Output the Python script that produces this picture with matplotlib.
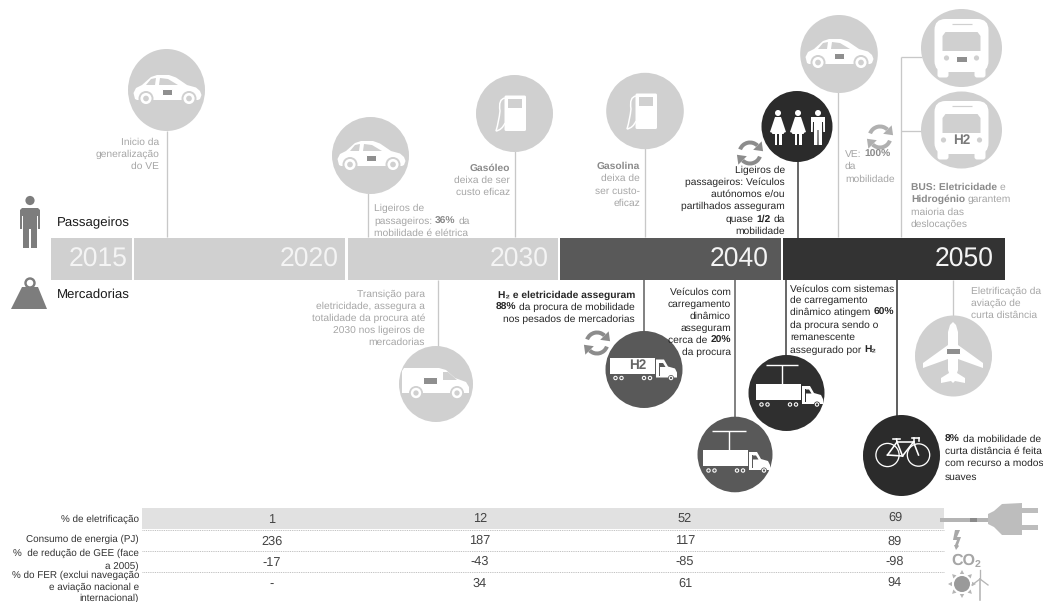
import matplotlib
matplotlib.use("Agg")
import matplotlib.pyplot as plt
import numpy as np
from matplotlib.patches import Ellipse, Polygon, Rectangle, Circle, PathPatch, FancyBboxPatch, Wedge
from matplotlib.path import Path

# ---------- data ----------
years = ["2015", "2020", "2030", "2040", "2050"]
row_labels = [
    ["% de eletrificação"],
    ["Consumo de energia (PJ)"],
    ["%  de redução de GEE (face", "a 2005)"],
    ["% do FER (exclui navegação", "e aviação nacional e", "internacional)"],
]
eletrificacao = ["1", "12", "52", "69"]
consumo = ["236", "187", "117", "89"]
gee = ["-17", "-43", "-85", "-98"]
fer = ["-", "34", "61", "94"]

txt_inicio = ["Inicio da", "generalização", "do VE"]
txt_lig36 = ["Ligeiros de", "passageiros: **36%** da", "mobilidade é elétrica"]
txt_gasoleo = ["**Gasóleo**", "deixa de ser", "custo eficaz"]
txt_gasolina = ["**Gasolina**", "deixa de", "ser custo-", "eficaz"]
txt_auto = ["Ligeiros de", "passageiros: Veículos", "autónomos e/ou", "partilhados asseguram", "quase **1/2** da", "mobilidade"]
txt_ve = ["VE: **100%**", "da", "mobilidade"]
txt_bus = ["**BUS: Eletricidade** e", "**Hidrogénio** garantem", "maioria das", "deslocações"]
txt_trans = ["Transição para", "eletricidade, assegura a", "totalidade da procura até", "2030 nos ligeiros de", "mercadorias"]
txt_h2 = ["**H₂ e eletricidade asseguram**", "**88%** da procura de mobilidade", "nos pesados de mercadorias"]
txt_din20 = ["Veículos com", "carregamento", "dinâmico", "asseguram", "cerca de **20%**", "da procura"]
txt_din60 = ["Veículos com sistemas", "de carregamento", "dinâmico atingem **60%**", "da procura sendo o", "remanescente", "assegurado por **H₂**"]
txt_aviacao = ["Eletrificação da", "aviação de", "curta distância"]
txt_bici = ["**8%** da mobilidade de", "curta distância é feita", "com recurso a modos", "suaves"]

# ---------- styles ----------
plt.rcParams["font.family"] = ["Liberation Sans", "DejaVu Sans"]
plt.rcParams["text.hinting"] = "no_hinting"
plt.rcParams["text.hinting_factor"] = 8
LIGHT = "#d0d0d0"
MID = "#595959"
DARK = "#333333"
TL = "#a6a6a6"
TLB = "#8a8a8a"
TD = "#262626"
W = "white"
PX = 0.72  # points per pixel at dpi 100

fig = plt.figure(figsize=(10.43, 6.02), dpi=100)
ax = fig.add_axes([0, 0, 1, 1])
ax.set_xlim(0, 1043)
ax.set_ylim(602, 0)
ax.axis("off")
renderer = fig.canvas.get_renderer()


def adv(s, size, weight):
    g = ax.text(0, 0, "|" + s + "|", fontsize=size * PX, fontweight=weight)
    g0 = ax.text(0, 0, "||", fontsize=size * PX, fontweight=weight)
    w = g.get_window_extent(renderer).width - g0.get_window_extent(renderer).width
    g.remove(); g0.remove()
    return w


def rich(lines, x, ys, ha="left", color=TD, boldcolor=None, size=10.2):
    boldcolor = boldcolor or color
    for line, y in zip(lines, ys):
        parts = [(p, i % 2 == 1) for i, p in enumerate(line.split("**")) if p]
        widths = [adv(p, size, "bold" if b else "normal") for p, b in parts]
        cur = x - sum(widths) if ha == "right" else x
        for (p, b), w in zip(parts, widths):
            lead = adv(p[: len(p) - len(p.lstrip())], size, "bold" if b else "normal") if p != p.lstrip() else 0
            ax.text(cur + lead, y, p.strip(), fontsize=size * PX, va="center_baseline", ha="left",
                    color=boldcolor if b else color, fontweight="bold" if b else "normal", zorder=5)
            cur += w


def vline(x, y0, y1, c="#c8c8c8", lw=1.3):
    ax.plot([x, x], [y0, y1], color=c, lw=lw * PX, solid_capstyle="butt", zorder=1)


def hline(x0, x1, y, c="#c8c8c8", lw=1.3, z=1):
    ax.plot([x0, x1], [y, y], color=c, lw=lw * PX, solid_capstyle="butt", zorder=z)


def disc(cx, cy, rx, ry, c):
    ax.add_patch(Ellipse((cx, cy), 2 * rx, 2 * ry, fc=c, ec="none", zorder=2))


def poly(cx, cy, pts, c=W, z=3):
    ax.add_patch(Polygon([(cx + a, cy + b) for a, b in pts], closed=True, fc=c, ec="none", zorder=z))


def ring(cx, cy, bg, r=7.0):
    ax.add_patch(Circle((cx, cy), r, fc=bg, ec="none", zorder=4))
    ax.add_patch(Circle((cx, cy), r * 0.74, fc=W, ec="none", zorder=5))
    ax.add_patch(Circle((cx, cy), r * 0.38, fc=bg, ec="none", zorder=6))


def battery(cx, cy, s=1.0):
    ax.add_patch(Rectangle((cx - 6 * s, cy - 3 * s), 12 * s, 6 * s, fc="#8f8f8f", ec=W, lw=1.0 * PX, zorder=6))
    ax.add_patch(Rectangle((cx + 6 * s, cy - 1.2 * s), 1.4 * s, 2.4 * s, fc=W, ec="none", zorder=6))


def car(cx, cy, bg):
    poly(cx, cy, [(-32, 8), (-33.5, 2), (-31, -3), (-25, -6), (-16, -14), (-10, -16), (2, -16), (9, -13.5),
                  (20, -6), (29, -3.5), (33, 0), (34.5, 4), (33, 8), (31, 9), (-30, 9)])
    poly(cx, cy, [(-21, -6), (-16, -12), (-11, -13), (-12, -6)], bg, 4)
    poly(cx, cy, [(-8, -6), (-7, -13), (1, -12), (11, -6)], bg, 4)
    ring(cx - 21, cy + 7.5, bg, 7.5)
    ring(cx + 22, cy + 7.5, bg, 7.5)
    battery(cx, cy + 1, 0.85)


def pump(cx, cy, bg):
    ax.add_patch(FancyBboxPatch((cx - 9.5, cy - 17.5), 21.5, 35.5, boxstyle="round,pad=0,rounding_size=1.5",
                                fc=W, ec="none", zorder=3))
    ax.add_patch(Rectangle((cx - 6, cy - 14), 14, 9, fc=bg, ec="none", zorder=4))
    p = Path([(cx - 9, cy - 15), (cx - 16, cy - 14), (cx - 14, cy - 2), (cx - 15, cy + 8),
              (cx - 18, cy + 18), (cx - 12, cy + 17), (cx - 9, cy + 10)],
             [Path.MOVETO, Path.CURVE3, Path.CURVE3, Path.CURVE3, Path.CURVE3, Path.CURVE3, Path.CURVE3])
    ax.add_patch(PathPatch(p, fc="none", ec=W, lw=1.5 * PX, zorder=4))


def woman(cx, cy):
    ax.add_patch(Circle((cx, cy - 14), 3.0, fc=W, ec="none", zorder=4))
    poly(cx, cy, [(-3, -10), (3, -10), (8, 5), (5.5, 6), (3.2, 0), (6, 7), (-6, 7), (-3.2, 0), (-5.5, 6), (-8, 5)], W, 4)
    poly(cx, cy, [(-3.5, 7), (-0.7, 7), (-0.7, 18), (-3.5, 18)], W, 4)
    poly(cx, cy, [(0.7, 7), (3.5, 7), (3.5, 18), (0.7, 18)], W, 4)


def man(cx, cy):
    ax.add_patch(Circle((cx, cy - 14), 3.0, fc=W, ec="none", zorder=4))
    poly(cx, cy, [(-7, -10), (7, -10), (7, 5), (5.2, 5), (5, -5), (4, -5), (4, 18), (0.6, 18), (0.5, 3), (-0.5, 3),
                  (-0.6, 18), (-4, 18), (-4, -5), (-5, -5), (-5.2, 5), (-7, 5)], W, 4)


def bus(cx, cy, bg, h2=False):
    ax.add_patch(FancyBboxPatch((cx - 27, cy - 29), 54, 53, boxstyle="round,pad=0,rounding_size=11", fc=W, ec="none", zorder=3))
    for sx in (-1, 1):
        ax.add_patch(FancyBboxPatch((cx + sx * 18.5 - 5.5, cy + 18), 11, 11.5, boxstyle="round,pad=0,rounding_size=2.5",
                                    fc=W, ec="none", zorder=3))
    poly(cx, cy, [(-16, -16), (16, -16), (19, -12), (19, 3), (-19, 3), (-19, -12)], bg, 4)
    hline(cx - 10, cx + 10, cy - 24, bg, 1.2, 5)
    for sx in (-1, 1):
        ax.add_patch(Circle((cx + sx * (18 if h2 else 15), cy + 10), 2.6, fc=bg, ec="none", zorder=5))
    if h2:
        ax.text(cx, cy + 10, "H2", fontsize=13.5 * PX, fontweight="bold", ha="center", va="center", color="#7a7a7a", zorder=6)
    else:
        battery(cx, cy + 11, 0.85)


def truck(cx, cy, bg, label=None):
    ax.add_patch(Rectangle((cx - 34, cy - 12), 44.5, 16, fc=W, ec="none", zorder=3))
    poly(cx, cy, [(12, -10), (20, -10), (24, -3), (31, -1), (33, 3), (33, 8), (12, 8)], W, 3)
    poly(cx, cy, [(16, -6.5), (19, -6.5), (21.5, -2.5), (16, -2.5)], bg, 4)
    ax.plot([cx + 15, cx + 15], [cy - 7, cy + 5], color=bg, lw=1.0 * PX, zorder=5)
    for dx in (-28.5, -22.5, 0, 6, 27):
        ring(cx + dx, cy + 8.5, bg, 3.0)
    if label:
        ax.text(cx - 6, cy - 4, label, fontsize=13.5 * PX, fontweight="bold", ha="center",
                va="center", color="#666666", zorder=5)


def pantograph(x, y_top, half, bottom):
    ax.plot([x - half, x + half], [y_top, y_top], color=W, lw=1.4 * PX, zorder=4, solid_capstyle="butt")
    ax.plot([x, x], [y_top, bottom], color=W, lw=1.4 * PX, zorder=4, solid_capstyle="butt")


def van(cx, cy, bg):
    poly(cx, cy, [(-34, -13), (-32, -16), (3, -16), (10, -14), (19, -6), (30, -2), (33, 3), (33, 9), (-34, 9)])
    poly(cx, cy, [(7, -12), (12, -12), (21, -4), (7, -4)], bg, 4)
    ring(cx - 20, cy + 9, bg)
    ring(cx + 21, cy + 9, bg)
    battery(cx - 6, cy - 3.5, 1.1)


def bike(cx, cy):
    kw = dict(fc="none", ec=W, lw=1.3 * PX, zorder=4)
    rear, front = (cx - 14, cy), (cx + 17, cy)
    ax.add_patch(Circle(rear, 11.6, **kw))
    ax.add_patch(Circle(front, 11.2, **kw))
    seat = (cx - 4.5, cy - 13)
    head = (cx + 12, cy - 13)
    bb = (cx + 1, cy + 1)
    for a, b in [(rear, seat), (seat, bb), (bb, rear), (seat, head), (head, bb), (head, front),
                 ((cx - 9, cy - 16), (cx - 2, cy - 16)), ((cx - 5, cy - 16), seat),
                 (head, (cx + 12, cy - 17)), ((cx + 10, cy - 17), (cx + 17, cy - 17)), ((cx + 17, cy - 17), (cx + 17, cy - 14))]:
        ax.plot([a[0], b[0]], [a[1], b[1]], color=W, lw=1.6 * PX, zorder=4)


def plane(cx, cy, bg):
    poly(cx, cy, [(0, -34), (3, -31), (5, -24), (5, -11), (30, 7), (30, 12), (5, 3), (5, 14), (4, 17), (12, 22), (12, 27),
                  (2, 25), (0, 27), (-2, 25), (-12, 27), (-12, 22), (-4, 17), (-5, 14), (-5, 3), (-30, 12), (-30, 7),
                  (-5, -11), (-5, -24), (-3, -31)])
    battery(cx, cy - 5, 1.1)


def cycle(cx, cy, c="#8c8c8c"):
    r = 10.5
    for a0 in (20, 200):
        a1 = a0 + 115
        ax.add_patch(Wedge((cx, cy), r + 2, a0, a1, width=4, fc=c, ec="none", zorder=3))
        th = np.deg2rad(a1)
        px, py = r * np.cos(th), r * np.sin(th)
        nx, ny = np.cos(th), np.sin(th)
        tx, ty = -np.sin(th), np.cos(th)
        poly(cx, cy, [(px + 6 * nx, py + 6 * ny), (px - 6 * nx, py - 6 * ny), (px + 8 * tx, py + 8 * ty)], c, 3)


# ---------- connector lines ----------
for x, a, b in [(166.5, 131, 237), (368, 193, 237), (515, 151, 237), (645, 148, 237), (838, 92, 237),
                (438, 280, 347), (953, 280, 317)]:
    vline(x, a, b)
vline(901, 57, 237)
hline(901, 922, 57)
hline(901, 922, 130.5)
vline(797.5, 160, 238, "#444444", 1.6)
vline(643.7, 280, 332, "#5a5a5a", 1.5)
vline(734.5, 280, 418, "#5a5a5a", 1.5)
vline(785.5, 280, 356, "#3a3a3a", 1.5)
vline(897, 280, 416, "#3a3a3a", 1.6)

# ---------- timeline ----------
seg_edges = [(51, 132), (134, 345), (347.5, 558), (560, 781), (783, 1004.5)]
seg_cols = [LIGHT, LIGHT, LIGHT, MID, DARK]
year_right = [128, 339, 549, 769, 994]
for (a, b), c, label, xr in zip(seg_edges, seg_cols, years, year_right):
    ax.add_patch(Rectangle((a, 237.5), b - a, 42.5, fc=c, ec="none", zorder=3))
    ax.text(xr, 260, label, color="#f4f4f4", fontsize=26.5 * PX, ha="right", va="center", zorder=4)

# ---------- circles & icons ----------
disc(166.5, 90, 38.5, 41, LIGHT); car(167, 91, LIGHT)
disc(370.5, 155.5, 38.5, 38.5, LIGHT); car(371, 157, LIGHT)
disc(514.5, 113.5, 38.5, 38.5, LIGHT); pump(514, 113, LIGHT)
disc(645, 111, 38.8, 38.2, LIGHT); pump(645, 111, LIGHT)
disc(797, 126.5, 35.5, 35.5, "#2b2b2b")
woman(778, 127); woman(798, 127); man(818, 127)
disc(839, 54, 38.8, 39, LIGHT); car(839, 55, LIGHT)
disc(961.5, 48, 40.5, 39, LIGHT); bus(961.5, 48, LIGHT)
disc(961.5, 130, 40.5, 38.5, LIGHT); bus(961.5, 130, LIGHT, h2=True)
disc(436, 384, 37, 38, LIGHT); van(436, 384, LIGHT)
disc(644, 369.5, 38.5, 38.5, MID); truck(644, 369.5, MID, "H2")
disc(735, 454.5, 37.5, 37.8, MID); truck(737, 462, MID); pantograph(729, 431, 17, 451)
disc(786.5, 393, 38, 38, "#2f2f2f"); truck(790, 396, "#2f2f2f"); pantograph(782, 365, 16, 385)
disc(901.5, 455.5, 38.5, 40.5, "#2b2b2b"); bike(901.5, 455)
disc(953.5, 356, 38.5, 40.5, LIGHT); plane(953, 356, LIGHT)
cycle(750, 153); cycle(880, 137, "#b0b0b0"); cycle(597, 343)

# person & weight
ax.add_patch(Circle((30, 200.5), 4.6, fc="#7d7d7d", ec="none"))
poly(30, 0, [(-10, 210), (-8, 208), (8, 208), (10, 210), (10, 229), (8, 229), (8, 216), (7, 216), (7, 248), (1, 248), (1, 229), (-1, 229),
             (-1, 248), (-7, 248), (-7, 216), (-8, 216), (-8, 229), (-10, 229)], "#7d7d7d")
poly(0, 0, [(22, 287), (38, 287), (47, 309), (11, 309)], "#7d7d7d")
ax.add_patch(Circle((30, 283), 4.5, fc="none", ec="#7d7d7d", lw=2.4 * PX))

ax.text(56.5, 223, "Passageiros", fontsize=13.3 * PX, ha="left", va="center", color="#1a1a1a")
ax.text(56.5, 295, "Mercadorias", fontsize=13.3 * PX, ha="left", va="center", color="#1a1a1a")

# ---------- annotations ----------
rich(txt_inicio, 159, [141, 153, 165], "right", TL, TLB)
rich(txt_lig36, 374, [207, 220, 232], "left", TL, TLB)
rich(txt_gasoleo, 510, [167, 179, 191], "right", TL, TLB)
rich(txt_gasolina, 640, [165, 177, 190, 202], "right", TL, TLB)
rich(txt_auto, 785, [169, 181, 193, 205, 218, 230], "right", TD)
rich(txt_ve, 845, [153, 165.5, 178], "left", TL, TLB)
rich(txt_bus, 911, [186, 198.5, 211, 223], "left", TL, TLB)
rich(txt_trans, 425, [293, 305, 317, 329, 341], "right", TL, TLB)
rich(txt_h2, 635, [294, 306, 318], "right", TD)
rich(txt_din20, 731, [291, 303, 315, 327, 339, 351], "right", TD)
rich(txt_din60, 790, [288, 299.5, 311.5, 324, 336, 349], "left", TD)
rich(txt_aviacao, 971, [290, 302.5, 314.5], "left", TL, TLB)
rich(txt_bici, 945, [438, 450, 462, 476], "left", TD)

# ---------- table ----------
ax.add_patch(Rectangle((142, 508), 802, 21, fc="#e1e1e1", ec="none", zorder=1))
for y in (529.5, 551, 572):
    ax.plot([142, 944], [y, y], color="#b5b5b5", lw=0.9 * PX, ls=(0, (1, 1)), zorder=2)
label_ys = [[518], [538], [552, 565], [574, 586, 597]]
for lines, ys in zip(row_labels, label_ys):
    rich(lines, 139, ys, "right", "#333333", size=9.9)
col_x = [272, 480, 685, 895]
col_y = [[520, 542, 563, 585], [519, 541, 562, 584], [518.5, 541, 562, 584], [518, 542, 562, 583]]
for j, (x, ys) in enumerate(zip(col_x, col_y)):
    for row, y in zip([eletrificacao, consumo, gee, fer], ys):
        ax.text(x, y, row[j], fontsize=12.7 * PX, ha="center", va="center", color="#444444", zorder=3)

# ---------- right-hand icons ----------
ax.plot([940, 990], [519.5, 519.5], color="#b4b4b4", lw=4 * PX, solid_capstyle="butt", zorder=3)
ax.plot([970, 977], [519.5, 519.5], color="#8a8a8a", lw=4 * PX, solid_capstyle="butt", zorder=4)
poly(0, 0, [(988, 514), (994, 511), (1002, 504), (1022, 503), (1022, 535), (1002, 535), (994, 527), (988, 524)], "#bdbdbd")
poly(0, 0, [(1022, 508), (1038, 508), (1038, 513), (1022, 513)], "#bdbdbd")
poly(0, 0, [(1022, 525), (1038, 525), (1038, 530), (1022, 530)], "#bdbdbd")
poly(0, 0, [(955, 530), (960, 530), (957, 537), (961, 537), (958, 545), (959, 546), (956, 550), (954, 545), (955, 545),
            (957, 540), (953, 540)], "#a8a8a8")
ax.text(951, 561, "CO", fontsize=16 * PX, fontweight="bold", ha="left", va="center", color="#a6a6a6")
ax.text(975, 564, "2", fontsize=10.5 * PX, fontweight="bold", ha="left", va="center", color="#a6a6a6")
ax.add_patch(Circle((962, 584), 8, fc="#9a9a9a", ec="none"))
for ang in np.deg2rad(np.arange(0, 360, 45)):
    ca, sa = np.cos(ang), np.sin(ang)
    poly(962, 584, [(10 * ca - 2.2 * sa, 10 * sa + 2.2 * ca), (10 * ca + 2.2 * sa, 10 * sa - 2.2 * ca), (14 * ca, 14 * sa)], "#b5b5b5")
ax.plot([980, 980], [579, 600], color="#b5b5b5", lw=1.6 * PX)
for dx, dy in [(0, -9), (-8, 6), (8, 6)]:
    ax.plot([980, 980 + dx], [579, 579 + dy], color="#b5b5b5", lw=1.3 * PX)

fig.savefig("out.png", dpi=100)
